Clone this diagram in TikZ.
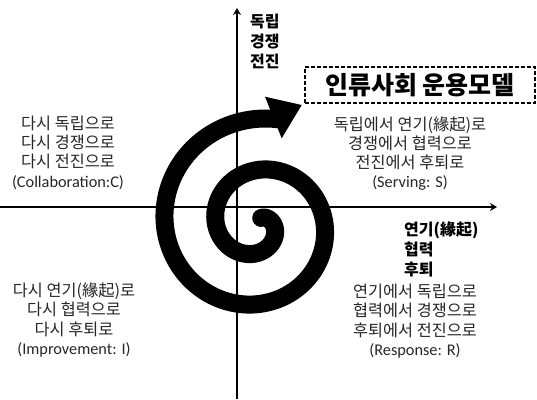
\documentclass[tikz,border=0pt]{standalone}
\usepackage{fontspec}
\newfontfamily\kr{Noto Sans CJK KR}
\newfontfamily\lat{Carlito}
\usetikzlibrary{arrows.meta}
\begin{document}
\begin{tikzpicture}[x=1pt,y=-1pt,
  quad/.style={font=\kr\fontsize{16.3}{19.3}\selectfont, align=center, text=black!85, inner sep=0pt},
  axlab/.style={font=\kr\bfseries\fontsize{16}{20}\selectfont, align=left, inner sep=0pt, anchor=west},
  axis/.style={line width=1.4pt, -{Stealth[length=7pt,width=8pt]}},
  titlebox/.style={draw, dashed, dash pattern=on 4pt off 2pt, line width=1.4pt,
    minimum width=230pt, minimum height=36pt, inner sep=0pt,
    font=\kr\bfseries\fontsize{25}{28}\selectfont},
  spiral/.style={line width=18pt, line cap=round},
]
\useasboundingbox (0,0) rectangle (537,399);

% axes
\coordinate (vb) at (237,399);
\coordinate (vt) at (237,8);
\coordinate (hl) at (0,207);
\coordinate (hr) at (497,207);
\draw[axis] (vb) -- (vt);
\draw[axis] (hl) -- (hr);

% spiral
\draw[spiral] plot[smooth, samples=240, domain=-60:642]
  ({257.5+(15.9+0.1422*\x)*cos(\x)}, {224.3+(15.9+0.1422*\x)*sin(\x)});
\fill (265,96.7) -- (301.7,105) -- (281.7,138.3) -- cycle;

% title
\node[titlebox] (title) at (420,85) {인류사회 운용모델};

% axis labels
\node[axlab] (up) at (250,41.5) {독립\\경쟁\\전진};
\node[axlab] (right) at (404,249) {\fontsize{16}{17.5}\selectfont 연기(緣起)\\협력\\후퇴};

% quadrant texts
\node[quad] (q2) at (68,152.5) {다시 독립으로\\다시 경쟁으로\\다시 전진으로\\{\lat (Collaboration:C)}};
\node[quad] (q1) at (410,153.5) {독립에서 연기(緣起)로\\경쟁에서 협력으로\\전진에서 후퇴로\\{\lat (Serving: S)}};
\node[quad] (q3) at (74,320) {다시 연기(緣起)로\\다시 협력으로\\다시 후퇴로\\{\lat (Improvement: I)}};
\node[quad] (q4) at (415,321) {연기에서 독립으로\\협력에서 경쟁으로\\후퇴에서 전진으로\\{\lat (Response: R)}};
\end{tikzpicture}
\end{document}
